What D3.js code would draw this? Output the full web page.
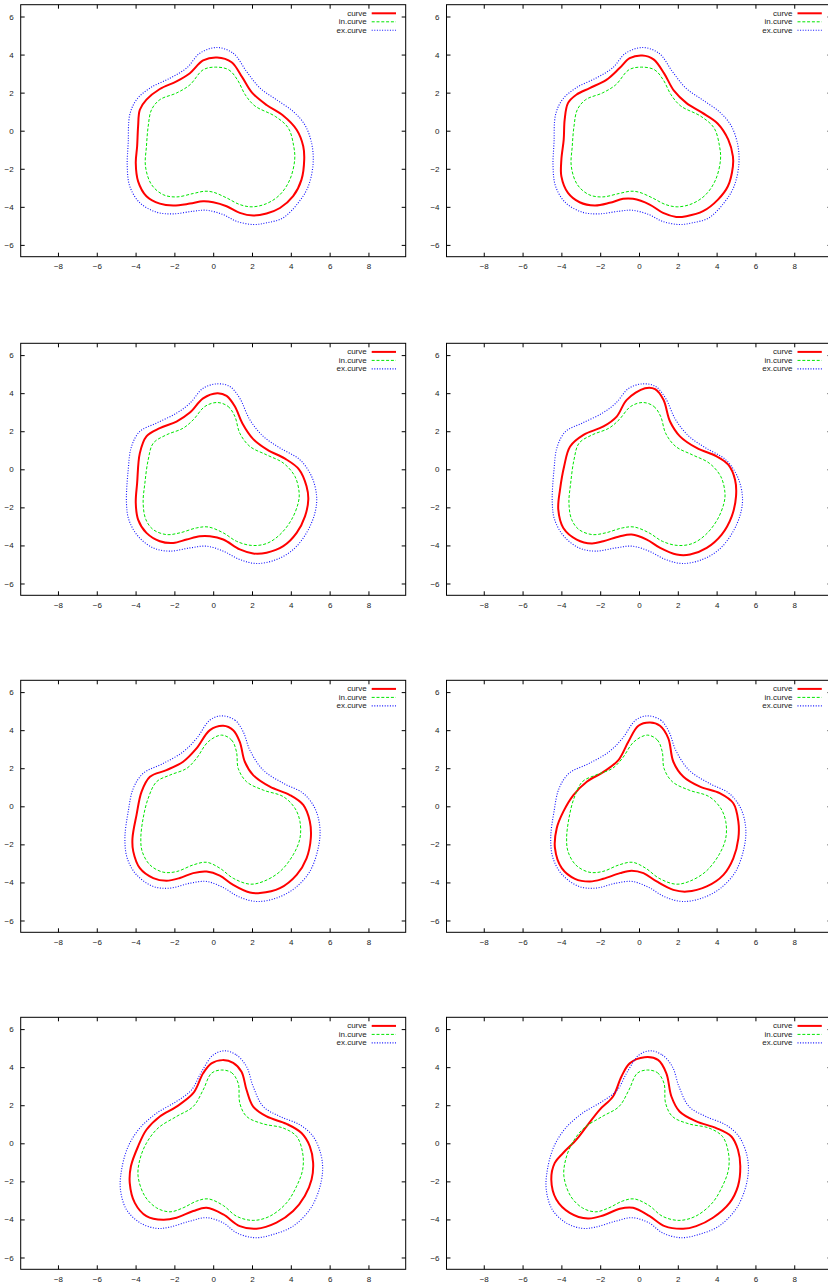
<!DOCTYPE html>
<html>
<head>
  <meta charset="utf-8">
  <style type="text/css">
  body {
    margin: 0;
    background: #fff;
    font-family: "Liberation Sans", Arial, sans-serif;
  }
  .frame {
    fill: none;
    stroke: #000;
    stroke-width: 1px;
  }
  .axis path {
    display: none;
  }
  .axis line {
    stroke: #000;
    stroke-width: 1px;
  }
  .axis text {
    font-size: 8px;
    fill: #222;
  }
  .legend text {
    font-size: 8px;
    fill: #222;
  }
  .curve    { fill: none; stroke: #ff0000; stroke-width: 2px; }
  .in-curve { fill: none; stroke: #00e600; stroke-width: 1px; stroke-dasharray: 3 1.8; }
  .ex-curve { fill: none; stroke: #1010ff; stroke-width: 1.1px; stroke-dasharray: 1 1.6; }
  </style>
</head>
<body>
  <script src="https://d3js.org/d3.v7.min.js"></script>
  <script>
    // tick labels
    var xTicks = [-8, -6, -4, -2, 0, 2, 4, 6, 8];
    var yTicks = [-6, -4, -2, 0, 2, 4, 6];
    var legendLabels = ["curve", "in.curve", "ex.curve"];

    // row 1
    var curve1 = [[0.2,3.85],[0.95,3.6],[1.5,2.8],[2.0,2.0],[2.75,1.35],[3.6,0.8],[4.3,0.05],[4.64,-0.82],[4.69,-1.52],[4.55,-2.57],[4.12,-3.44],[3.44,-4.06],[2.75,-4.35],[2.06,-4.46],[1.37,-4.32],[0.69,-3.97],[0,-3.76],[-0.52,-3.71],[-1.2,-3.83],[-2.06,-3.93],[-2.75,-3.83],[-3.44,-3.44],[-3.87,-2.66],[-3.99,-1.7],[-3.92,-0.82],[-3.87,0.23],[-3.78,1.1],[-3.44,1.63],[-2.75,2.19],[-1.89,2.59],[-1.2,3.02],[-0.52,3.69]];
    var curve2 = [[0.17,3.95],[0.75,3.75],[1.3,3.0],[1.8,2.1],[2.45,1.45],[3.25,0.95],[4.05,0.38],[4.6,-0.47],[4.84,-1.35],[4.84,-1.87],[4.58,-2.92],[4.07,-3.62],[3.3,-4.23],[2.44,-4.49],[1.92,-4.53],[1.24,-4.32],[0.55,-3.88],[-0.31,-3.58],[-0.82,-3.58],[-1.51,-3.79],[-2.28,-3.93],[-3.06,-3.76],[-3.66,-3.27],[-4.0,-2.4],[-4.0,-1.52],[-3.88,-0.47],[-3.83,0.58],[-3.66,1.45],[-3.23,1.89],[-2.54,2.24],[-1.68,2.67],[-1.0,3.29],[-0.48,3.81]];
    var inCurve1 = [[0.12,3.34],[0.8,3.2],[1.25,2.67],[1.65,1.89],[2.15,1.3],[3.2,0.75],[3.87,0.14],[4.15,-0.82],[4.2,-1.52],[3.95,-2.57],[3.44,-3.36],[2.75,-3.83],[2.0,-4.0],[1.37,-3.88],[0.69,-3.53],[0,-3.23],[-0.43,-3.18],[-1.03,-3.3],[-1.89,-3.48],[-2.58,-3.36],[-3.18,-2.83],[-3.49,-1.87],[-3.44,-0.82],[-3.35,0.23],[-3.18,1.1],[-2.75,1.63],[-1.89,1.98],[-1.2,2.41],[-0.52,3.2]];
    var exCurve1 = [[0.17,4.37],[1.03,4.07],[1.72,3.11],[2.41,2.24],[3.26,1.63],[4.12,1.01],[4.72,0.31],[5.07,-0.65],[5.15,-1.7],[4.9,-2.92],[4.38,-3.79],[3.6,-4.58],[2.75,-4.84],[2.06,-4.93],[1.2,-4.76],[0.52,-4.41],[-0.34,-4.18],[-1.03,-4.23],[-2.06,-4.37],[-2.92,-4.28],[-3.78,-3.79],[-4.3,-2.92],[-4.43,-1.87],[-4.38,-0.65],[-4.3,0.84],[-3.95,1.63],[-3.26,2.24],[-2.23,2.76],[-1.37,3.29],[-0.69,4.07]];

    // row 2
    var curve3 = [[0.21,4.0],[0.69,3.86],[1.12,3.3],[1.5,2.42],[2.05,1.6],[2.8,1.02],[3.7,0.56],[4.42,0.0],[4.81,-0.89],[4.9,-1.59],[4.73,-2.47],[4.3,-3.34],[3.61,-4.04],[2.75,-4.38],[2.06,-4.42],[1.37,-4.21],[0.52,-3.69],[-0.17,-3.52],[-0.69,-3.52],[-1.37,-3.69],[-2.06,-3.87],[-2.75,-3.78],[-3.44,-3.34],[-3.87,-2.64],[-3.99,-1.77],[-3.92,-0.72],[-3.78,0.85],[-3.44,1.73],[-2.75,2.16],[-1.89,2.51],[-1.2,2.98],[-0.52,3.73]];
    var curve4 = [[0.31,4.26],[0.83,4.21],[1.26,3.65],[1.6,2.51],[2.11,1.73],[2.97,1.12],[4.0,0.68],[4.6,0.24],[4.95,-0.55],[5.0,-1.42],[4.78,-2.47],[4.26,-3.43],[3.49,-4.13],[2.63,-4.48],[1.94,-4.48],[1.09,-4.13],[0.4,-3.69],[-0.38,-3.43],[-0.98,-3.52],[-1.84,-3.78],[-2.44,-3.9],[-3.21,-3.69],[-3.9,-3.08],[-4.16,-2.11],[-4.07,-1.07],[-3.86,0.15],[-3.55,1.2],[-2.86,1.81],[-1.83,2.25],[-1.15,2.77],[-0.63,3.65]];
    var inCurve2 = [[0.21,3.51],[0.77,3.3],[1.12,2.77],[1.37,1.9],[1.89,1.2],[2.75,0.76],[3.61,0.33],[4.21,-0.37],[4.43,-1.24],[4.38,-1.77],[4.04,-2.64],[3.44,-3.43],[2.75,-3.9],[1.98,-4.0],[1.2,-3.78],[0.52,-3.34],[-0.26,-3.03],[-0.86,-3.08],[-1.72,-3.34],[-2.41,-3.43],[-3.09,-3.17],[-3.47,-2.64],[-3.61,-1.77],[-3.52,-0.72],[-3.35,0.5],[-3.09,1.37],[-2.41,1.81],[-1.55,2.16],[-1.03,2.6],[-0.43,3.3]];
    var exCurve2 = [[0.21,4.49],[0.86,4.35],[1.37,3.73],[1.89,2.6],[2.58,1.73],[3.44,1.12],[4.47,0.5],[5.07,-0.37],[5.33,-1.42],[5.24,-2.3],[4.81,-3.34],[4.12,-4.22],[3.26,-4.74],[2.23,-4.95],[1.37,-4.74],[0.52,-4.3],[-0.34,-4.04],[-1.2,-4.13],[-2.23,-4.3],[-3.09,-4.13],[-3.87,-3.52],[-4.35,-2.64],[-4.47,-1.77],[-4.38,-0.02],[-4.21,1.2],[-3.78,1.99],[-2.92,2.43],[-1.89,2.95],[-1.2,3.47],[-0.52,4.26]];

    // row 3
    var curve5 = [[0.52,4.23],[1.03,4.0],[1.37,3.39],[1.63,2.34],[2.06,1.64],[2.92,1.03],[3.95,0.59],[4.64,0.07],[4.98,-0.8],[5.03,-1.68],[4.81,-2.73],[4.3,-3.6],[3.44,-4.3],[2.41,-4.56],[1.89,-4.53],[1.03,-4.13],[0.34,-3.64],[-0.34,-3.43],[-1.03,-3.51],[-1.72,-3.77],[-2.41,-3.91],[-3.09,-3.77],[-3.78,-3.25],[-4.12,-2.37],[-4.16,-1.68],[-3.95,-0.45],[-3.69,0.77],[-3.26,1.55],[-2.41,1.9],[-1.55,2.34],[-0.86,3.04],[-0.17,4.0]];
    var curve6 = [[0.57,4.4],[1.08,4.23],[1.51,3.57],[1.77,2.34],[2.29,1.55],[3.14,1.03],[4.18,0.68],[4.86,0.16],[5.12,-0.8],[5.12,-1.68],[4.86,-2.73],[4.35,-3.6],[3.49,-4.21],[2.46,-4.48],[1.77,-4.39],[0.91,-3.95],[0.23,-3.51],[-0.38,-3.38],[-0.98,-3.51],[-1.84,-3.81],[-2.53,-3.95],[-3.3,-3.81],[-3.98,-3.25],[-4.33,-2.2],[-4.24,-1.15],[-3.9,-0.28],[-3.38,0.59],[-2.69,1.29],[-1.83,1.81],[-1.06,2.43],[-0.55,3.39],[-0.03,4.23]];
    var inCurve3 = [[0.43,3.74],[0.95,3.48],[1.2,2.86],[1.29,1.99],[1.72,1.29],[2.58,0.85],[3.61,0.51],[4.21,-0.1],[4.47,-0.8],[4.47,-1.68],[4.12,-2.55],[3.44,-3.43],[2.58,-3.95],[1.89,-4.09],[1.03,-3.78],[0.34,-3.25],[-0.34,-2.94],[-1.03,-3.08],[-1.89,-3.43],[-2.58,-3.46],[-3.26,-3.08],[-3.66,-2.37],[-3.73,-1.68],[-3.61,-0.63],[-3.35,0.42],[-2.92,1.29],[-2.23,1.64],[-1.37,1.99],[-0.86,2.52],[-0.26,3.39]];
    var exCurve3 = [[0.43,4.75],[1.12,4.53],[1.55,3.91],[1.89,2.95],[2.58,1.9],[3.61,1.21],[4.64,0.68],[5.24,-0.1],[5.5,-1.15],[5.41,-2.2],[4.98,-3.42],[4.21,-4.3],[3.26,-4.82],[2.23,-5.0],[1.29,-4.74],[0.52,-4.27],[-0.34,-3.95],[-1.2,-4.04],[-2.23,-4.3],[-3.09,-4.21],[-3.95,-3.6],[-4.43,-2.73],[-4.55,-1.68],[-4.38,-0.28],[-4.12,0.94],[-3.61,1.73],[-2.58,2.25],[-1.55,2.86],[-0.86,3.56],[-0.17,4.53]];

    // row 4
    var curve7 = [[0.48,4.37],[1.03,4.23],[1.46,3.76],[1.72,2.8],[2.06,1.93],[2.75,1.41],[3.78,1.02],[4.55,0.54],[4.98,-0.16],[5.15,-1.03],[5.07,-1.9],[4.72,-2.77],[4.12,-3.56],[3.26,-4.17],[2.23,-4.49],[1.37,-4.35],[0.52,-3.74],[-0.34,-3.39],[-1.03,-3.56],[-1.89,-3.91],[-2.58,-4.02],[-3.44,-3.83],[-4.04,-3.13],[-4.3,-2.09],[-4.24,-1.21],[-3.87,-0.16],[-3.44,0.71],[-2.75,1.41],[-1.89,1.93],[-1.03,2.63],[-0.52,3.68],[-0.09,4.2]];
    var curve8 = [[0.29,4.52],[0.98,4.38],[1.41,3.68],[1.67,2.46],[2.09,1.67],[2.95,1.15],[3.98,0.8],[4.76,0.36],[5.1,-0.34],[5.22,-1.21],[5.1,-2.25],[4.67,-3.13],[3.81,-3.91],[2.95,-4.35],[2.27,-4.49],[1.32,-4.35],[0.55,-3.83],[-0.31,-3.39],[-0.99,-3.44],[-1.85,-3.79],[-2.63,-3.95],[-3.57,-3.65],[-4.26,-2.95],[-4.52,-1.9],[-4.34,-1.03],[-3.91,-0.51],[-3.23,0.19],[-2.71,0.88],[-2.03,1.76],[-1.34,2.46],[-0.91,3.5],[-0.48,4.2]];
    var inCurve4 = [[0.43,3.85],[0.95,3.71],[1.29,3.15],[1.37,2.11],[1.72,1.41],[2.58,1.02],[3.61,0.8],[4.3,0.36],[4.61,-0.51],[4.61,-1.38],[4.3,-2.25],[3.78,-3.13],[2.92,-3.83],[2.06,-4.05],[1.2,-3.83],[0.52,-3.27],[-0.26,-2.92],[-0.86,-3.04],[-1.55,-3.39],[-2.23,-3.6],[-2.92,-3.39],[-3.52,-2.78],[-3.87,-1.73],[-3.78,-0.86],[-3.44,0.01],[-2.84,0.8],[-1.89,1.41],[-1.03,1.93],[-0.52,2.8],[-0.09,3.68]];
    var exCurve4 = [[0.6,4.86],[1.2,4.64],[1.72,4.03],[2.06,2.98],[2.58,1.93],[3.44,1.41],[4.47,0.97],[5.15,0.36],[5.53,-0.51],[5.64,-1.38],[5.46,-2.43],[4.98,-3.48],[4.12,-4.35],[3.09,-4.79],[2.15,-4.96],[1.2,-4.7],[0.52,-4.18],[-0.34,-3.91],[-1.2,-4.09],[-2.23,-4.4],[-2.92,-4.47],[-3.78,-4.17],[-4.47,-3.48],[-4.78,-2.43],[-4.72,-1.38],[-4.38,-0.16],[-3.78,0.8],[-2.92,1.58],[-1.89,2.2],[-1.12,2.8],[-0.6,3.76],[0.0,4.64]];

    var panels = [
      {curve: curve1, inner: inCurve1, outer: exCurve1},
      {curve: curve2, inner: inCurve1, outer: exCurve1},
      {curve: curve3, inner: inCurve2, outer: exCurve2},
      {curve: curve4, inner: inCurve2, outer: exCurve2},
      {curve: curve5, inner: inCurve3, outer: exCurve3},
      {curve: curve6, inner: inCurve3, outer: exCurve3},
      {curve: curve7, inner: inCurve4, outer: exCurve4},
      {curve: curve8, inner: inCurve4, outer: exCurve4}
    ];

    var width = 385, height = 252;
    var colLeft = [20.7, 446.5];
    var rowTop = [4.7, 343.3, 680.3, 1017.3];

    var x = d3.scaleLinear().domain([-9.92, 9.92]).range([0, width]);
    var y = d3.scaleLinear().domain([-6.62, 6.62]).range([height, 0]);

    var line = d3.line()
        .x(function(d) { return x(d[0]); })
        .y(function(d) { return y(d[1]); })
        .curve(d3.curveCatmullRomClosed.alpha(0.5));

    var svg = d3.select("body").append("svg")
        .attr("width", 828)
        .attr("height", 1288);

    panels.forEach(function(p, i) {
      var g = svg.append("g")
          .attr("transform", "translate(" + colLeft[i % 2] + "," + rowTop[Math.floor(i / 2)] + ")");

      // axes: labels bottom/left, mirrored inward ticks on top/right
      g.append("g").attr("class", "axis")
          .attr("transform", "translate(0," + height + ")")
          .call(d3.axisBottom(x).tickValues(xTicks).tickSize(-4).tickPadding(7));
      g.append("g").attr("class", "axis")
          .call(d3.axisLeft(y).tickValues(yTicks).tickSize(-4).tickPadding(7));
      g.append("g").attr("class", "axis")
          .call(d3.axisTop(x).tickValues(xTicks).tickSize(-4).tickFormat(""));
      g.append("g").attr("class", "axis")
          .attr("transform", "translate(" + width + ",0)")
          .call(d3.axisRight(y).tickValues(yTicks).tickSize(-4).tickFormat(""));

      g.append("path").datum(p.curve).attr("class", "curve").attr("d", line);
      g.append("path").datum(p.inner).attr("class", "in-curve").attr("d", line);
      g.append("path").datum(p.outer).attr("class", "ex-curve").attr("d", line);

      g.append("rect").attr("class", "frame")
          .attr("width", width).attr("height", height);

      var legend = g.selectAll(".legend")
          .data(legendLabels)
        .enter().append("g")
          .attr("class", "legend")
          .attr("transform", function(d, j) { return "translate(0," + (8.6 + j * 8.5) + ")"; });
      legend.append("text")
          .attr("x", width - 39)
          .attr("dy", "0.32em")
          .attr("text-anchor", "end")
          .text(function(d) { return d; });
      legend.append("line")
          .attr("class", function(d, j) { return ["curve", "in-curve", "ex-curve"][j]; })
          .attr("x1", width - 34).attr("x2", width - 9.7);
    });
  </script>
</body>
</html>
